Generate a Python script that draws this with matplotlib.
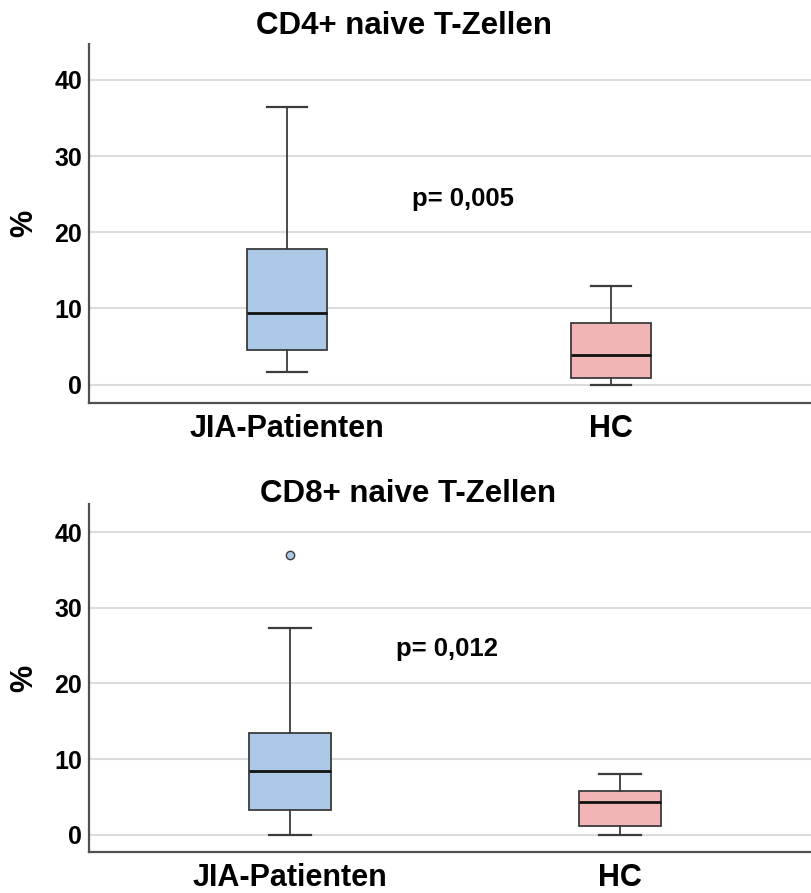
import matplotlib
matplotlib.use("Agg")
import matplotlib.pyplot as plt

# --- data (percent) ---
groups = ["JIA-Patienten", "HC"]
box_colors = ["#abc9e7", "#f2b5b6"]

# CD4+ naive T-Zellen: whislo, q1, med, q3, whishi
cd4_jia = [1.7, 4.6, 9.35, 17.85, 36.4]
cd4_hc = [0.0, 0.92, 3.85, 8.1, 13.0]
cd4_fliers = [[], []]
cd4_p = "p= 0,005"

# CD8+ naive T-Zellen
cd8_jia = [0.0, 3.35, 8.45, 13.5, 27.3]
cd8_hc = [0.0, 1.15, 4.3, 5.85, 8.05]
cd8_fliers = [[37.0], []]
cd8_p = "p= 0,012"

yticks = [0, 10, 20, 30, 40]

plt.rcParams['font.family'] = ['Liberation Sans', 'DejaVu Sans']
plt.rcParams['font.weight'] = 'bold'

EDGE = "#3c3c3c"


def make_stats(vals, fliers, label):
    lo, q1, med, q3, hi = vals
    return dict(label=label, whislo=lo, q1=q1, med=med, q3=q3, whishi=hi, fliers=fliers)


def draw_panel(ax, series, fliers, ptext, ptext_xy, xlim, ylim, width):
    stats = [make_stats(v, f, g) for v, f, g in zip(series, fliers, groups)]
    bp = ax.bxp(stats, positions=[1, 2], widths=width, patch_artist=True,
                boxprops=dict(edgecolor=EDGE, linewidth=1.3),
                whiskerprops=dict(color=EDGE, linewidth=1.3),
                capprops=dict(color=EDGE, linewidth=1.6),
                medianprops=dict(color="#111111", linewidth=2.0),
                flierprops=dict(marker="o", markersize=6, markeredgecolor=EDGE,
                                markeredgewidth=1.0))
    for patch, c in zip(bp["boxes"], box_colors):
        patch.set_facecolor(c)
    for fl, c in zip(bp["fliers"], box_colors):
        fl.set_markerfacecolor(c)

    ax.set_xlim(*xlim)
    ax.set_ylim(*ylim)
    ax.set_yticks(yticks)
    ax.yaxis.grid(True, color="#dcdcdc", linewidth=1.5)
    ax.set_axisbelow(True)
    ax.tick_params(axis="both", length=0)
    ax.tick_params(axis="y", labelsize=18, pad=5)
    ax.tick_params(axis="x", labelsize=22, pad=8)
    for lab in ax.get_xticklabels() + ax.get_yticklabels():
        lab.set_fontweight("bold")
    for s in ["top", "right"]:
        ax.spines[s].set_visible(False)
    for s in ["left", "bottom"]:
        ax.spines[s].set_color("#505050")
        ax.spines[s].set_linewidth(1.6)
    ax.set_ylabel("%", fontsize=22, fontweight="bold")
    ax.yaxis.set_label_coords(-50 / 722, 0.5)
    ax.text(ptext_xy[0], ptext_xy[1], ptext, transform=ax.transData,
            fontsize=18.5, fontweight="bold", ha="left", va="center")
    return ax


fig = plt.figure(figsize=(8.11, 8.93), dpi=100)
ax1 = fig.add_axes([89 / 811, 1 - 403 / 893, 722 / 811, 359 / 893])
ax2 = fig.add_axes([89 / 811, 1 - 852 / 893, 722 / 811, 348 / 893])

draw_panel(ax1, [cd4_jia, cd4_hc], cd4_fliers, cd4_p,
           (1.385, 24.4), (0.389, 2.617), (-2.4, 44.7), 0.247)
draw_panel(ax2, [cd8_jia, cd8_hc], cd8_fliers, cd8_p,
           (1.32, 24.5), (0.391, 2.579), (-2.25, 43.7), 0.25)

fig.text(404 / 811, 1 - 26 / 893, "CD4+ naive T-Zellen", fontsize=22.5,
         fontweight="bold", ha="center", va="center")
fig.text(408 / 811, 1 - 494 / 893, "CD8+ naive T-Zellen", fontsize=22.5,
         fontweight="bold", ha="center", va="center")

fig.savefig("out.png", dpi=100)
